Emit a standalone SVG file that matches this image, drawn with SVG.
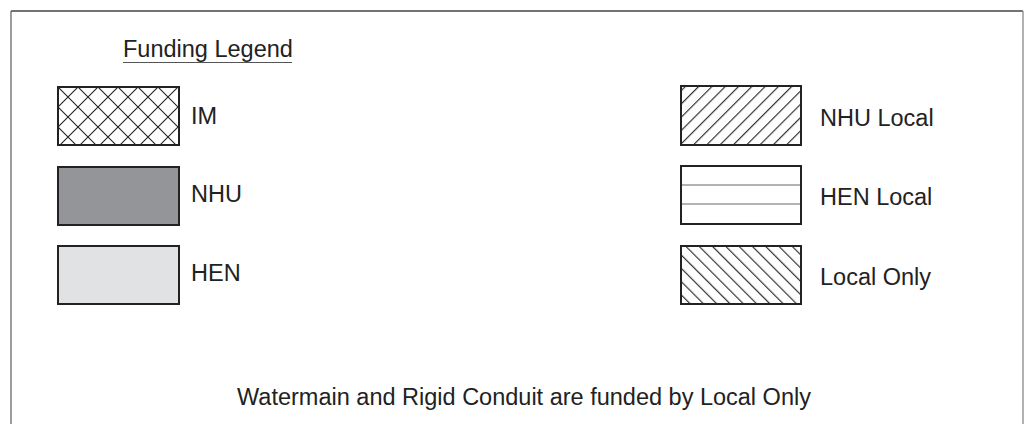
<svg xmlns="http://www.w3.org/2000/svg" width="1029" height="424" viewBox="0 0 1029 424">
<style>
.box{stroke:#222;stroke-width:2}
.lbl{font-family:"Liberation Sans",Arial,sans-serif;font-size:23.5px;fill:#222}
.hl{stroke:#222;stroke-width:1.1}
</style>
<defs>
<pattern id="cross" patternUnits="userSpaceOnUse" x="58" y="87" width="20" height="20">
<path d="M0,0 L20,20 M0,20 L20,0" class="hl"/>
</pattern>
<pattern id="fwd" patternUnits="userSpaceOnUse" width="9.4" height="10" patternTransform="rotate(45)">
<line x1="0.6" y1="0" x2="0.6" y2="10" class="hl"/>
</pattern>
<pattern id="back" patternUnits="userSpaceOnUse" width="9.4" height="10" patternTransform="rotate(-45)">
<line x1="0.6" y1="0" x2="0.6" y2="10" class="hl"/>
</pattern>
</defs>
<rect width="1029" height="424" fill="#fff"/>
<g id="frame" fill="none">
<line x1="11" y1="11" x2="1023" y2="11" stroke="#444" stroke-width="1.3"/>
<line x1="11" y1="11" x2="11" y2="424" stroke="#666" stroke-width="1.3"/>
<line x1="1023" y1="11" x2="1023" y2="424" stroke="#888" stroke-width="1.3"/>
</g>
<g id="title">
<text class="lbl" x="123" y="56.5">Funding Legend</text>
<line x1="123" y1="62.5" x2="292" y2="62.5" stroke="#555" stroke-width="1.2"/>
</g>
<g id="im">
<rect class="box" x="58" y="87" width="121" height="58" fill="url(#cross)"/>
<text class="lbl" x="191" y="123.5">IM</text>
</g>
<g id="nhu">
<rect class="box" x="58" y="167" width="121" height="58" fill="#939598"/>
<text class="lbl" x="191" y="202">NHU</text>
</g>
<g id="hen">
<rect class="box" x="58" y="246" width="121" height="58" fill="#e1e2e3"/>
<text class="lbl" x="191" y="281">HEN</text>
</g>
<g id="nhu-local">
<rect class="box" x="681" y="86" width="120" height="59" fill="url(#fwd)"/>
<text class="lbl" x="820" y="126">NHU Local</text>
</g>
<g id="hen-local">
<rect class="box" x="681" y="166" width="120" height="58" fill="#fff"/>
<line x1="682" y1="185" x2="800" y2="185" stroke="#666" stroke-width="1"/>
<line x1="682" y1="204" x2="800" y2="204" stroke="#666" stroke-width="1"/>
<text class="lbl" x="820" y="205">HEN Local</text>
</g>
<g id="local-only">
<rect class="box" x="681" y="246" width="120" height="58" fill="url(#back)"/>
<text class="lbl" x="820" y="284.5">Local Only</text>
</g>
<g id="note">
<text class="lbl" x="524" y="404.5" text-anchor="middle">Watermain and Rigid Conduit are funded by Local Only</text>
</g>
</svg>
